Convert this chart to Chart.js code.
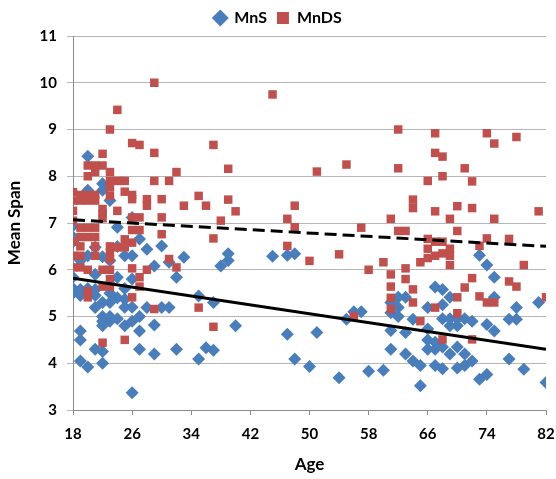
<!DOCTYPE html>
<html>
<head>
<meta charset="utf-8">
<script src="https://cdn.jsdelivr.net/npm/chart.js@4"></script>
<style>
  html, body { margin: 0; padding: 0; background: #fff; }
  #wrap { width: 556px; height: 479px; }
</style>
</head>
<body>
<div id="wrap"><canvas id="chart" width="556" height="479"></canvas></div>
<script>
// Mean span by age, one point per participant
const mnsPoints = [
    [18, 6.94], [18, 6.7], [18, 6.6], [18, 5.84], [18, 5.6], [18, 5.5],
    [19, 6.2], [19, 5.58], [19, 5.45], [19, 4.69], [19, 4.5], [19, 4.05],
    [20, 8.43], [20, 7.7], [20, 6.3], [20, 5.6], [20, 5.5], [20, 3.92],
    [21, 6.48], [21, 5.9], [21, 5.58], [21, 5.45], [21, 5.19], [21, 4.3],
    [22, 7.84], [22, 7.7], [22, 6.28], [22, 5.3], [22, 5.0], [22, 4.9], [22, 4.8], [22, 4.25], [22, 4.0],
    [23, 7.48], [23, 6.2], [23, 5.7], [23, 5.5], [23, 5.3], [23, 5.0], [23, 4.9],
    [24, 6.91], [24, 6.5], [24, 5.84], [24, 5.4], [24, 4.95],
    [25, 6.3], [25, 5.6], [25, 5.37], [25, 5.2], [25, 4.8],
    [26, 7.12], [26, 6.3], [26, 5.8], [26, 5.2], [26, 4.9], [26, 3.37],
    [27, 6.66], [27, 5.0], [27, 4.69], [27, 4.3],
    [28, 6.44], [28, 5.19],
    [29, 6.08], [29, 4.82], [29, 4.2],
    [30, 6.51], [30, 5.19],
    [31, 6.16], [31, 5.19],
    [32, 5.84], [32, 4.3],
    [33, 6.27],
    [35, 5.44], [35, 4.09],
    [36, 4.33],
    [37, 5.3], [37, 4.28],
    [38, 6.08],
    [39, 6.34], [39, 6.2],
    [40, 4.8],
    [45, 6.29], [47, 6.31], [47, 4.62], [48, 6.34], [48, 4.09], [50, 3.93], [51, 4.66],
    [54, 3.69], [55, 4.94], [56, 5.1], [57, 5.1], [58, 3.83], [60, 3.85],
    [61, 5.3], [61, 5.08], [61, 4.7], [61, 4.3],
    [62, 5.41], [62, 5.19], [62, 5.0],
    [63, 5.41], [63, 4.66], [63, 4.2],
    [64, 4.94], [64, 4.05],
    [65, 3.95], [65, 3.52],
    [66, 5.19], [66, 4.73], [66, 4.5], [66, 4.3],
    [67, 5.63], [67, 4.45], [67, 4.3], [67, 3.95],
    [68, 5.58], [68, 5.25], [68, 4.95], [68, 4.35], [68, 3.88],
    [69, 5.41], [69, 4.95], [69, 4.8], [69, 4.2],
    [70, 4.95], [70, 4.8], [70, 4.35], [70, 3.9],
    [71, 4.95], [71, 4.2], [71, 3.95],
    [72, 4.9], [72, 4.05],
    [73, 6.31], [73, 3.66],
    [74, 6.1], [74, 4.83], [74, 3.76],
    [75, 5.84], [75, 5.41], [75, 4.69],
    [77, 4.94], [77, 4.09],
    [78, 5.19], [78, 4.94],
    [79, 3.87],
    [81, 5.3],
    [82, 3.59]
];

const mndsPoints = [
    [18, 7.66], [18, 7.48], [18, 7.26], [18, 7.05], [18, 6.6], [18, 6.3], [18, 6.05],
    [19, 7.6], [19, 7.48], [19, 6.9], [19, 6.7], [19, 6.5], [19, 6.3], [19, 6.05],
    [20, 8.23], [20, 8.0], [20, 7.6], [20, 7.48], [20, 6.9], [20, 6.7], [20, 6.0], [20, 5.54], [20, 5.41],
    [21, 8.23], [21, 8.09], [21, 7.6], [21, 7.48], [21, 6.9], [21, 6.7], [21, 6.5], [21, 6.3],
    [22, 8.48], [22, 8.23], [22, 7.3], [22, 7.2], [22, 7.1], [22, 6.0], [22, 5.64], [22, 4.44],
    [23, 9.0], [23, 8.09], [23, 7.9], [23, 7.76], [23, 7.58], [23, 6.5], [23, 6.37], [23, 6.23], [23, 6.0], [23, 5.8], [23, 5.64],
    [24, 9.42], [24, 7.9], [24, 7.26], [24, 6.48],
    [25, 7.9], [25, 7.67], [25, 6.65], [25, 6.48], [25, 4.5],
    [26, 8.71], [26, 7.6], [26, 7.51], [26, 7.12], [26, 6.85], [26, 6.58], [26, 6.03], [26, 5.41],
    [27, 8.67], [27, 7.12], [27, 6.85], [27, 5.84], [27, 5.64],
    [28, 7.51], [28, 7.37], [28, 6.0],
    [29, 10.0], [29, 8.5], [29, 7.9], [29, 5.16],
    [30, 7.51], [30, 7.12], [30, 6.76],
    [31, 7.9], [31, 6.23],
    [32, 8.09], [32, 6.05],
    [33, 7.37],
    [35, 7.58], [35, 5.19],
    [36, 7.37],
    [37, 8.67], [37, 6.67], [37, 4.78],
    [38, 7.05],
    [39, 8.16], [39, 7.5],
    [40, 7.25],
    [45, 9.75], [47, 7.09], [47, 6.51], [48, 7.37], [48, 6.91], [50, 6.19], [51, 8.1],
    [54, 6.33], [55, 8.25], [56, 5.01], [57, 6.9], [58, 6.0], [60, 6.16],
    [61, 7.09], [61, 5.9], [61, 5.64], [61, 5.4], [61, 5.16],
    [62, 9.0], [62, 8.17], [62, 6.83],
    [63, 6.83], [63, 6.03], [63, 5.8],
    [64, 7.5], [64, 7.32], [64, 5.58], [64, 5.3],
    [65, 6.16], [65, 4.9],
    [66, 7.9], [66, 6.66], [66, 6.45], [66, 6.25],
    [67, 8.92], [67, 8.5], [67, 7.25], [67, 6.6], [67, 6.3], [67, 5.19],
    [68, 8.42], [68, 8.0], [68, 6.6], [68, 6.35], [68, 4.51],
    [69, 7.09], [69, 6.45], [69, 6.3], [69, 6.1],
    [70, 7.36], [70, 6.83], [70, 5.41], [70, 5.07],
    [71, 8.17], [71, 5.62],
    [72, 7.89], [72, 7.32], [72, 5.82], [72, 4.51],
    [73, 6.51], [73, 5.43],
    [74, 8.92], [74, 6.67], [74, 5.3],
    [75, 8.7], [75, 7.09], [75, 5.3],
    [77, 6.66], [77, 5.75],
    [78, 8.84], [78, 5.64],
    [79, 6.1],
    [81, 7.25],
    [82, 5.41]
];

// linear trend lines (end points)
const trendAges = [18, 82];
const mnsTrend = [5.82, 4.3];
const mndsTrend = [7.07, 6.5];

const xTicks = [18, 26, 34, 42, 50, 58, 66, 74, 82];
const yTicks = [3, 4, 5, 6, 7, 8, 9, 10, 11];

const blue = "#4a7ebb";
const red = "#c0504d";
const axisFont = { family: "Lato", size: 15, weight: "bold" };

function toXY(list) {
    return list.map(p => ({ x: p[0], y: p[1] }));
}

function trend(values) {
    return trendAges.map((a, i) => ({ x: a, y: values[i] }));
}

const ctx = document.getElementById("chart");

new Chart(ctx, {
    type: "scatter",
    data: {
        datasets: [{
            label: "MnS",
            data: toXY(mnsPoints),
            pointStyle: "rectRot",
            pointRadius: 6.5,
            backgroundColor: blue,
            borderColor: blue,
            borderWidth: 0,
            order: 3
        }, {
            label: "MnDS",
            data: toXY(mndsPoints),
            pointStyle: "rect",
            pointRadius: 6,
            backgroundColor: red,
            borderColor: red,
            borderWidth: 0,
            order: 2
        }, {
            label: "MnS trend",
            type: "line",
            data: trend(mnsTrend),
            showLine: true,
            borderColor: "#000",
            borderWidth: 3,
            pointRadius: 0,
            fill: false,
            order: 0
        }, {
            label: "MnDS trend",
            type: "line",
            data: trend(mndsTrend),
            showLine: true,
            borderColor: "#000",
            borderWidth: 3,
            borderDash: [12, 6],
            pointRadius: 0,
            fill: false,
            order: 1
        }]
    },
    options: {
        responsive: false,
        animation: false,
        layout: { padding: { top: 0, right: 0, left: 0, bottom: 0 } },
        plugins: {
            tooltip: { enabled: false },
            legend: {
                display: true,
                position: "top",
                labels: {
                    usePointStyle: true,
                    boxWidth: 12,
                    boxHeight: 12,
                    padding: 10,
                    color: "#000",
                    font: { family: "Lato", size: 16, weight: "bold" },
                    filter: item => item.datasetIndex < 2,
                    sort: (a, b) => a.datasetIndex - b.datasetIndex
                }
            }
        },
        scales: {
            x: {
                type: "linear",
                min: 18,
                max: 82,
                afterBuildTicks: scale => { scale.ticks = xTicks.map(v => ({ value: v })); },
                afterFit: scale => {
                    scale.height = 69;
                    scale.paddingRight = 10;
                },
                ticks: { color: "#000", font: axisFont, padding: 10 },
                grid: { drawOnChartArea: false, tickLength: 5, color: "#8c8c8c" },
                border: { color: "#8c8c8c" },
                title: {
                    display: true,
                    text: "Age",
                    color: "#000",
                    font: { family: "Lato", size: 17, weight: "bold" },
                    padding: { top: 4 }
                }
            },
            y: {
                min: 3,
                max: 11,
                afterBuildTicks: scale => { scale.ticks = yTicks.map(v => ({ value: v })); },
                afterFit: scale => { scale.width = 73; },
                ticks: { color: "#000", font: axisFont, padding: 10 },
                grid: { color: "#b5b5b5", tickLength: 6 },
                border: { color: "#8c8c8c" },
                title: {
                    display: true,
                    text: "Mean Span",
                    color: "#000",
                    font: { family: "Lato", size: 17, weight: "bold" },
                    padding: { bottom: 6 }
                }
            }
        }
    }
});
</script>
</body>
</html>
